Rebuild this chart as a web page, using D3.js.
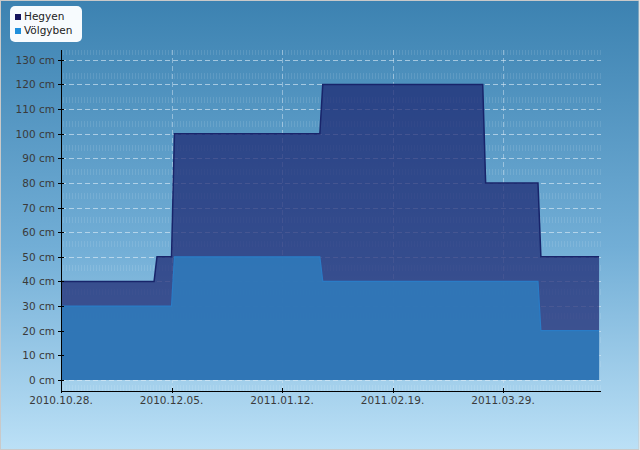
<!DOCTYPE html>
<html>
<head>
<meta charset="utf-8">
<script src="https://d3js.org/d3.v7.min.js"></script>
<style>
body { margin: 0; background: #fff; }
svg { display: block; font-family: 'DejaVu Sans', Verdana, sans-serif; }
.tick-label { font-size: 10.5px; fill: #3a3a3a; }
</style>
</head>
<body>
<div id="chart"></div>
<script>
var width = 640, height = 450;

// series names and colours
var seriesNames = ["Hegyen", "Völgyben"];

// snow depth (cm), one point per reading date
var hegyenDates = ["2010-10-28", "2010-11-29", "2010-11-30", "2010-12-05", "2010-12-06",
  "2011-01-25", "2011-01-26", "2011-03-22", "2011-03-23", "2011-04-10", "2011-04-11", "2011-05-01"];
var hegyenValues = [40, 40, 50, 50, 100, 100, 120, 120, 80, 80, 50, 50];

var volgyDates = ["2010-10-28", "2010-12-05", "2010-12-06", "2011-01-25", "2011-01-26",
  "2011-04-10", "2011-04-11", "2011-05-01"];
var volgyValues = [30, 30, 50, 50, 40, 40, 20, 20];

var xTickDates = ["2010-10-28", "2010-12-05", "2011-01-12", "2011-02-19", "2011-03-29"];
var yTicks = [0, 10, 20, 30, 40, 50, 60, 70, 80, 90, 100, 110, 120, 130];

var parse = d3.timeParse("%Y-%m-%d");
var hegyen = hegyenDates.map((d, i) => ({ date: parse(d), value: hegyenValues[i] }));
var volgy = volgyDates.map((d, i) => ({ date: parse(d), value: volgyValues[i] }));

var plot = { left: 61, right: 601, top: 50, bottom: 391 };

var x = d3.scaleTime()
  .domain([parse("2010-10-28"), d3.timeHour.offset(parse("2011-05-01"), 16)])
  .range([plot.left, plot.right]);
var y = d3.scaleLinear().domain([-4.5, 134]).range([plot.bottom, plot.top]);

var svg = d3.select("#chart").append("svg")
  .attr("width", width).attr("height", height);

var defs = svg.append("defs");
var bg = defs.append("linearGradient").attr("id", "bg")
  .attr("x1", 0).attr("y1", 0).attr("x2", 0).attr("y2", 1);
bg.append("stop").attr("offset", "0%").attr("stop-color", "#3c82b1");
bg.append("stop").attr("offset", "55%").attr("stop-color", "#72aed6");
bg.append("stop").attr("offset", "100%").attr("stop-color", "#bbe0f6");

var hatch = defs.append("pattern").attr("id", "hatch")
  .attr("width", 3).attr("height", 6).attr("patternUnits", "userSpaceOnUse");
hatch.append("rect").attr("width", 1).attr("height", 6).attr("fill", "rgba(255,255,255,0.1)");

defs.append("clipPath").attr("id", "clip").append("rect")
  .attr("x", plot.left).attr("y", plot.top)
  .attr("width", plot.right - plot.left).attr("height", plot.bottom - plot.top);

// background + border
svg.append("rect").attr("x", 0.5).attr("y", 0.5).attr("width", width - 1.5).attr("height", height - 1)
  .attr("fill", "url(#bg)").attr("stroke", "#c9c9c9").attr("stroke-width", 1);

var g = svg.append("g").attr("clip-path", "url(#clip)");

// faint hatched bands of the plot background
for (var yy = plot.bottom - 6; yy > plot.top - 6; yy -= 24) {
  g.append("rect").attr("x", plot.left).attr("y", yy)
    .attr("width", plot.right - plot.left).attr("height", 6)
    .attr("fill", "url(#hatch)");
}

// grid
g.selectAll(".hgrid").data(yTicks).enter().append("line")
  .attr("x1", plot.left).attr("x2", plot.right)
  .attr("y1", d => Math.round(y(d)) + 0.5).attr("y2", d => Math.round(y(d)) + 0.5)
  .attr("stroke", "rgba(225,238,248,0.6)").attr("stroke-dasharray", "5,3");
g.selectAll(".vgrid").data(xTickDates.slice(1)).enter().append("line")
  .attr("x1", d => Math.round(x(parse(d))) + 0.5).attr("x2", d => Math.round(x(parse(d))) + 0.5)
  .attr("y1", plot.top).attr("y2", plot.bottom)
  .attr("stroke", "rgba(225,238,248,0.45)").attr("stroke-dasharray", "5,3");

var area = d3.area().x(d => x(d.date)).y0(y(0)).y1(d => y(d.value));
var line = d3.line().x(d => x(d.date)).y(d => y(d.value));

g.append("path").attr("d", area(hegyen))
  .attr("fill", "rgb(28,38,112)").attr("fill-opacity", 0.72);
g.append("path").attr("d", line(hegyen))
  .attr("fill", "none").attr("stroke", "#18246a").attr("stroke-width", 1.5);

g.append("path").attr("d", area(volgy))
  .attr("fill", "#2f78b9").attr("fill-opacity", 0.93);
g.append("path").attr("d", line(volgy))
  .attr("fill", "none").attr("stroke", "#2a7cc6").attr("stroke-width", 1.2);

// axes
svg.append("line").attr("x1", plot.left + 0.5).attr("x2", plot.left + 0.5)
  .attr("y1", plot.top).attr("y2", plot.bottom + 1).attr("stroke", "#000");
svg.append("line").attr("x1", plot.left).attr("x2", plot.right)
  .attr("y1", plot.bottom + 0.5).attr("y2", plot.bottom + 0.5).attr("stroke", "#000");

svg.selectAll(".ytick").data(yTicks).enter().append("line")
  .attr("x1", plot.left - 3).attr("x2", plot.left + 3)
  .attr("y1", d => Math.round(y(d)) + 0.5).attr("y2", d => Math.round(y(d)) + 0.5)
  .attr("stroke", "#000");
svg.selectAll(".ylabel").data(yTicks).enter().append("text")
  .attr("class", "tick-label")
  .attr("x", plot.left - 6).attr("y", d => y(d) + 4)
  .attr("text-anchor", "end")
  .text(d => d + " cm");

var fmt = d3.timeFormat("%Y.%m.%d.");
svg.selectAll(".xtick").data(xTickDates).enter().append("line")
  .attr("x1", d => Math.round(x(parse(d))) + 0.5).attr("x2", d => Math.round(x(parse(d))) + 0.5)
  .attr("y1", plot.bottom - 3).attr("y2", plot.bottom + 2)
  .attr("stroke", "#000");
svg.selectAll(".xlabel").data(xTickDates).enter().append("text")
  .attr("class", "tick-label")
  .attr("x", d => x(parse(d))).attr("y", plot.bottom + 12.5)
  .attr("text-anchor", "middle")
  .text(d => fmt(parse(d)));

// legend
var legendColors = ["#15155c", "#1f8fdc"];
var legend = svg.append("g");
legend.append("rect").attr("x", 10).attr("y", 6).attr("width", 72).attr("height", 36)
  .attr("rx", 5).attr("fill", "#f7fbfe");
seriesNames.forEach(function (name, i) {
  legend.append("rect").attr("x", 15).attr("y", 14 + i * 14).attr("width", 6).attr("height", 6)
    .attr("fill", legendColors[i]);
  legend.append("text").attr("x", 24).attr("y", 20 + i * 13.5)
    .attr("font-size", "10.5px").attr("fill", "#222").text(name);
});
</script>
</body>
</html>
